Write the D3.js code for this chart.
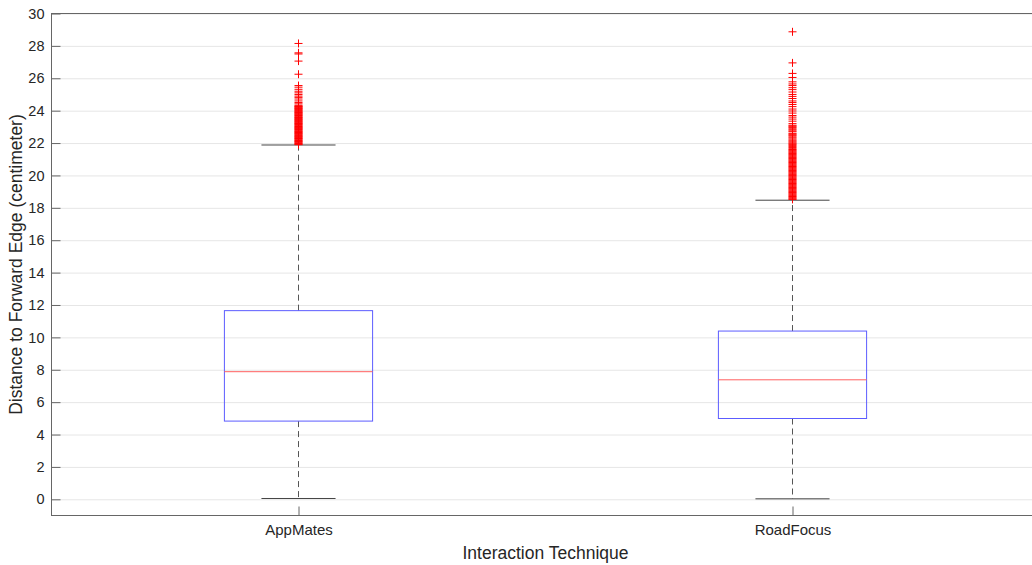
<!DOCTYPE html>
<html>
<head>
<meta charset="utf-8">
<script src="https://cdn.jsdelivr.net/npm/d3@7"></script>
<style>
  body { margin: 0; background: #fff; }
  text { font-family: "Liberation Sans", Arial, sans-serif; fill: #262626; }
</style>
</head>
<body>
<div id="chart"></div>
<script>
// Categories and box statistics
const categories = ["AppMates", "RoadFocus"];
const q1 = [4.83, 4.99];
const medians = [7.88, 7.38];
const q3 = [11.65, 10.39];
const whiskerLow = [0.05, 0.03];
const whiskerHigh = [21.88, 18.47];

// Outliers (red plus markers)
const outliersAppMates = [28.15, 27.57, 27.5, 27.06, 26.25, 25.55, 25.45, 25.32, 25.2, 25.1,
  25.0, 24.9, 24.82, 24.72, 24.6, 24.5, 24.42, 24.33, 24.28, 24.22, 24.15, 24.08, 24.0,
  23.92, 23.85, 23.78, 23.7, 23.62, 23.55, 23.47, 23.4, 23.32, 23.25, 23.18, 23.1, 23.02,
  22.95, 22.88, 22.8, 22.72, 22.65, 22.58, 22.5, 22.42, 22.35, 22.28, 22.2, 22.12, 22.05, 21.97,
  24.26, 24.18, 24.12, 24.04, 23.96, 23.89, 23.81, 23.74, 23.66, 23.58, 23.51, 23.44, 23.36,
  23.29, 23.21, 23.14, 23.06, 22.98, 22.91, 22.84, 22.76, 22.69, 22.61, 22.54, 22.46, 22.39,
  22.31, 22.24, 22.16, 22.09, 22.01, 21.93, 21.9];
const outliersRoadFocus = [28.87, 26.95, 26.3, 26.05, 25.78, 25.65, 25.55, 25.42, 25.3, 25.15,
  25.0, 24.88, 24.75, 24.6, 24.5, 24.38, 24.25, 24.1, 23.98, 23.85, 23.7, 23.6, 23.48,
  23.35, 23.2, 23.1, 23.0, 22.88, 22.75, 22.6, 22.5, 22.38, 22.25, 22.12, 22.0, 21.9,
  21.78, 21.65, 21.55, 21.45, 21.35, 21.25, 21.15, 21.05, 20.95, 20.85, 20.75, 20.65,
  20.55, 20.45, 20.35, 20.25, 20.15, 20.05, 19.95, 19.85, 19.75, 19.65, 19.55, 19.45,
  19.35, 19.25, 19.15, 19.05, 18.95, 18.85, 18.75, 18.65, 18.55,
  23.05, 22.95, 22.82, 22.7, 22.55, 22.45, 22.32, 22.18, 22.06, 21.95, 21.84, 21.72,
  21.6, 21.5, 21.4, 21.3, 21.2, 21.1, 21.0, 20.9, 20.8, 20.7, 20.6, 20.5, 20.4, 20.3,
  20.2, 20.1, 20.0, 19.9, 19.8, 19.7, 19.6, 19.5, 19.4, 19.3, 19.2, 19.1, 19.0, 18.9,
  18.8, 18.7, 18.6, 18.52];
const outliers = [outliersAppMates, outliersRoadFocus];

const yTicks = d3.range(0, 31, 2);

const width = 1032;
const height = 565;
const plot = { left: 51.5, right: 1039.5, top: 13.5, bottom: 515.5 };

const svg = d3.select("#chart")
    .append("svg")
    .attr("width", width)
    .attr("height", height);

const x = d3.scaleLinear()
    .domain([0.5, 2.5])
    .range([plot.left, plot.right]);

const y = d3.scaleLinear()
    .domain([-1, 30])
    .range([plot.bottom, plot.top]);

// Grid lines
svg.append("g")
    .attr("transform", `translate(${plot.left},0)`)
    .call(d3.axisLeft(y).tickValues(yTicks).tickSize(-(plot.right - plot.left)).tickFormat(""))
    .call(g => g.select(".domain").remove())
    .call(g => g.selectAll("line").attr("stroke", "#e6e6e6"));

// Y axis, ticks pointing inward
svg.append("g")
    .attr("transform", `translate(${plot.left},0)`)
    .call(d3.axisLeft(y).tickValues(yTicks).tickSizeInner(-9).tickSizeOuter(0).tickPadding(7))
    .call(g => g.select(".domain").remove())
    .call(g => g.selectAll("line").attr("stroke", "#666"))
    .call(g => g.selectAll("text").style("font-size", "14.5px").attr("fill", "#262626"));

// X axis
svg.append("g")
    .attr("transform", `translate(0,${plot.bottom})`)
    .call(d3.axisBottom(x).tickValues([1, 2]).tickFormat((d, i) => categories[i])
        .tickSizeInner(-9).tickSizeOuter(0).tickPadding(9))
    .call(g => g.select(".domain").remove())
    .call(g => g.selectAll("line").attr("stroke", "#666"))
    .call(g => g.selectAll("text").style("font-size", "15px").attr("fill", "#262626"));

// Plot frame
svg.append("rect")
    .attr("x", plot.left)
    .attr("y", plot.top)
    .attr("width", plot.right - plot.left)
    .attr("height", plot.bottom - plot.top)
    .attr("fill", "none")
    .attr("stroke", "#666")
    .attr("stroke-width", 1);

const boxW = 0.3;
const capW = 0.15;

categories.forEach((c, i) => {
    const cx = x(i + 1);
    const g = svg.append("g");

    // dashed whiskers
    g.append("line")
        .attr("x1", cx).attr("x2", cx)
        .attr("y1", y(q3[i])).attr("y2", y(whiskerHigh[i]))
        .attr("stroke", "#555").attr("stroke-dasharray", "6,4");
    g.append("line")
        .attr("x1", cx).attr("x2", cx)
        .attr("y1", y(q1[i])).attr("y2", y(whiskerLow[i]))
        .attr("stroke", "#555").attr("stroke-dasharray", "6,4");

    // caps
    [whiskerHigh[i], whiskerLow[i]].forEach(v => {
        g.append("line")
            .attr("x1", x(i + 1 - capW / 2)).attr("x2", x(i + 1 + capW / 2))
            .attr("y1", y(v)).attr("y2", y(v))
            .attr("stroke", "#444");
    });

    // box
    g.append("rect")
        .attr("x", x(i + 1 - boxW / 2))
        .attr("y", y(q3[i]))
        .attr("width", x(i + 1 + boxW / 2) - x(i + 1 - boxW / 2))
        .attr("height", y(q1[i]) - y(q3[i]))
        .attr("fill", "none")
        .attr("stroke", "#5c5cff");

    // median
    g.append("line")
        .attr("x1", x(i + 1 - boxW / 2)).attr("x2", x(i + 1 + boxW / 2))
        .attr("y1", y(medians[i])).attr("y2", y(medians[i]))
        .attr("stroke", "#ff6060");

    // outliers
    g.selectAll("path.out")
        .data(outliers[i])
        .join("path")
        .attr("class", "out")
        .attr("transform", d => `translate(${cx},${y(d)})`)
        .attr("d", "M-4,0H4M0,-4V4")
        .attr("stroke", "red")
        .attr("stroke-width", 1)
        .attr("fill", "none");
});

// Axis labels
svg.append("text")
    .attr("text-anchor", "middle")
    .attr("x", (plot.left + plot.right) / 2)
    .attr("y", 559)
    .style("font-size", "17.5px")
    .text("Interaction Technique");

svg.append("text")
    .attr("text-anchor", "middle")
    .attr("transform", `translate(22,${(plot.top + plot.bottom) / 2}) rotate(-90)`)
    .style("font-size", "17.5px")
    .text("Distance to Forward Edge (centimeter)");
</script>
</body>
</html>
